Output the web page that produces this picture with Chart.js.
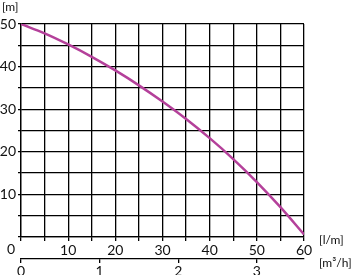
<!DOCTYPE html>
<html>
<head>
<meta charset="utf-8">
<script src="https://cdn.jsdelivr.net/npm/chart.js@4.4.1/dist/chart.umd.min.js"></script>
<style>
  html, body { margin: 0; padding: 0; background: #fff; }
  #wrap { width: 352px; height: 275px; }
</style>
</head>
<body>
<div id="wrap"><canvas id="pump"></canvas></div>
<script>
// расход [l/m] и напор [m]
const flow = [0, 5, 10, 15, 20, 25, 30, 35, 40, 45, 50, 55, 60];
const head = [50, 47.8, 45.2, 42.3, 39.1, 35.6, 31.8, 27.7, 23.2, 18.3, 12.9, 7.0, 0.6];
const m3hTicks = [0, 1, 2, 3];

const FONT = "Lato, 'DejaVu Sans', sans-serif";
const INK = "#111";

const pts = flow.map((x, i) => ({ x: x, y: head[i] }));

// подписи единиц и общий ноль
const unitLabels = {
	id: "unitLabels",
	afterDraw(chart) {
		const c = chart.ctx;
		c.save();
		c.fillStyle = INK;
		c.font = "12px " + FONT;
		c.textBaseline = "middle";
		c.textAlign = "left";
		c.fillText("[m]", 2, 7);
		c.fillText("[l/m]", 319, 240);
		c.fillText("[m\u00B3/h]", 319, 263);
		c.font = "14px " + FONT;
		c.textAlign = "center";
		c.fillText("0", 11, 249);
		c.restore();
	},
};

new Chart(document.getElementById("pump"), {
	type: "line",
	data: {
		datasets: [
			{
				data: pts,
				borderColor: "#b4409a",
				borderWidth: 2.5,
				pointRadius: 0,
				fill: false,
				cubicInterpolationMode: "monotone",
			},
		],
	},
	options: {
		responsive: true,
		maintainAspectRatio: false,
		animation: false,
		events: [],
		layout: { padding: { top: 24, right: 48, left: 0, bottom: 0 } },
		plugins: { legend: { display: false }, tooltip: { enabled: false } },
		scales: {
			x: {
				type: "linear",
				position: "bottom",
				min: 0,
				max: 60,
				afterFit: (s) => { s.height = 22; },
				ticks: {
					stepSize: 5,
					maxRotation: 0,
					autoSkip: false,
					padding: 1,
					color: INK,
					font: { family: FONT, size: 14 },
					callback: (v) => (v % 10 === 0 && v !== 0 ? v : ""),
				},
				grid: { color: "#000", lineWidth: 1.3, tickLength: 4 },
				border: { color: "#000", width: 1.3 },
			},
			x2: {
				type: "linear",
				position: "bottom",
				min: 0,
				max: 3.6,
				afterFit: (s) => { s.height = 16; },
				afterBuildTicks: (s) => { s.ticks = m3hTicks.map((v) => ({ value: v })); },
				ticks: {
					padding: 0,
					color: INK,
					font: { family: FONT, size: 14 },
					callback: (v) => v,
				},
				grid: { drawOnChartArea: false, color: "#000", lineWidth: 1.3, tickLength: 4 },
				border: { color: "#000", width: 1.3 },
			},
			y: {
				min: 0,
				max: 50,
				afterFit: (s) => { s.width = 21; },
				ticks: {
					stepSize: 5,
					padding: 2,
					color: INK,
					font: { family: FONT, size: 14 },
					callback: (v) => (v % 10 === 0 && v !== 0 ? v : ""),
				},
				grid: { color: "#000", lineWidth: 1.3, tickLength: 3 },
				border: { color: "#000", width: 1.3 },
			},
		},
	},
	plugins: [unitLabels],
});
</script>
</body>
</html>
